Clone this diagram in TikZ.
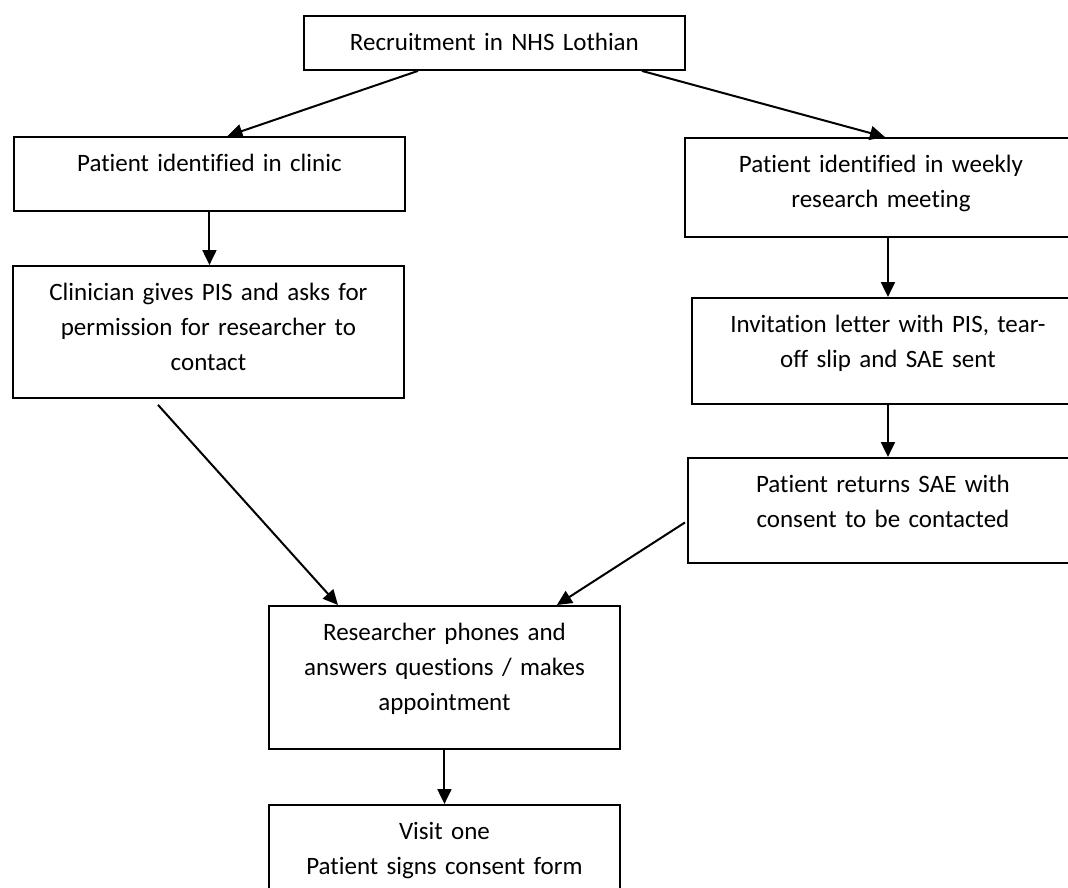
\documentclass[tikz,border=0pt]{standalone}
\usepackage{fontspec}
\setmainfont{Carlito}[Ligatures=NoCommon]
\usetikzlibrary{arrows.meta}
\begin{document}
\begin{tikzpicture}[
        x=1pt, y=-1pt,
        every node/.style={font=\fontsize{25}{35}\selectfont},
        box/.style={draw, line width=1.9pt, anchor=north west, align=center, inner xsep=0pt, inner ysep=0pt, text height=35pt},
        arr/.style={line width=2pt, -{Triangle[length=15pt, width=14pt]}}
    ]
        \useasboundingbox (0,0) rectangle (1068,888);
        \clip (0,0) rectangle (1068,888);
        \node[box, text width=381pt, text depth=19pt] (recruit) at (303,15) {Recruitment in NHS Lothian};
        \node[box, text width=391pt, text depth=39pt] (clinic) at (13,136) {Patient identified in clinic};
        \node[box, text width=391pt, text depth=97pt] (clinician) at (12,265) {Clinician gives PIS and asks for\\ permission for researcher to\\ contact};
        \node[box, text width=392pt, text depth=64pt] (weekly) at (684,137) {Patient identified in weekly\\ research meeting};
        \node[box, text width=392pt, text depth=71pt] (invite) at (691,297) {Invitation letter with PIS, tear-\\ off slip and SAE sent};
        \node[box, text width=390pt, text depth=70pt] (returns) at (687,457) {Patient returns SAE with\\ consent to be contacted};
        \node[box, text width=351pt, text depth=108pt] (phones) at (268,605) {Researcher phones and\\ answers questions / makes\\ appointment};
        \node[box, text width=351pt, text depth=75pt] (visit) at (268,804) {Visit one\\ Patient signs consent form};
        \draw[arr] ([xshift=115pt]recruit.south west) -- ([xshift=18pt]clinic.north);
        \draw[arr] ([xshift=-44pt]recruit.south east) -- ([xshift=4pt]weekly.north);
        \draw[arr] (clinic.south) -- (clinic.south |- clinician.north);
        \draw[arr] (invite.north |- weekly.south) -- (invite.north);
        \draw[arr] (invite.south) -- (invite.south |- returns.north);
        \draw[arr] ([xshift=146pt, yshift=-6pt]clinician.south west) -- ([xshift=70pt]phones.north west);
        \draw[arr] ([xshift=-2pt, yshift=-12pt]returns.west) -- ([xshift=-64pt]phones.north east);
        \draw[arr] (phones.south) -- (phones.south |- visit.north);
    \end{tikzpicture}
\end{document}
